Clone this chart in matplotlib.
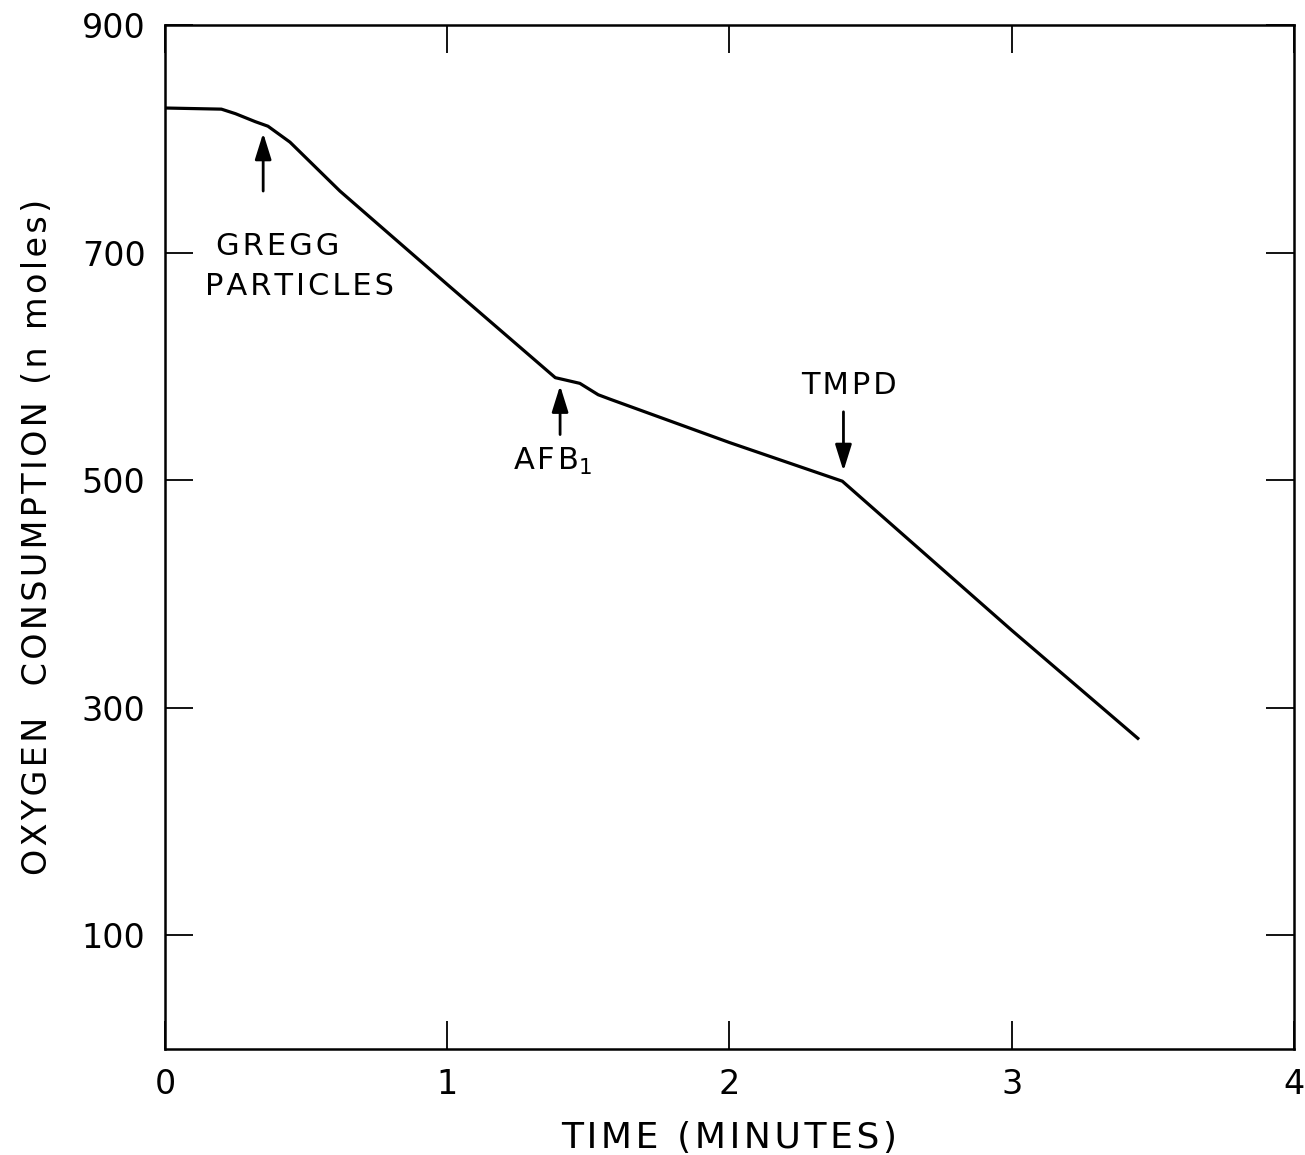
#!/usr/bin/env python3
"""Oxygen consumption vs time, with additions marked by arrows"""

import matplotlib
matplotlib.use("Agg")
import matplotlib.pyplot as plt

time_min = [0.0, 0.2, 0.25, 0.32, 0.365, 0.443, 0.62, 1.0, 1.383, 1.418,
             1.47, 1.535, 1.578, 2.0, 2.40, 3.0, 3.447]
oxygen = [827, 826, 822, 815, 811, 797, 754, 672, 590, 588,
          585, 575, 571, 533, 499, 368, 273]

# additions: time, arrow tail value, arrow head value
add_time = [0.348, 1.40, 2.404]
arrow_tail = [754, 540, 560]
arrow_head = [805, 583, 508]

x_ticks = [0, 1, 2, 3, 4]
y_ticks = [100, 300, 500, 700, 900]

plt.rcParams['font.family'] = ['DejaVu Sans']

fig = plt.figure(figsize=(13.05, 11.55), dpi=100)
ax = fig.add_axes([0.1264, 0.0918, 0.8651, 0.8866])

ax.plot(time_min, oxygen, color='black', lw=2.3, solid_joinstyle='round')

for t, tail, head in zip(add_time, arrow_tail, arrow_head):
    ax.annotate('', xy=(t, head), xytext=(t, tail),
                arrowprops=dict(arrowstyle='-|>,head_length=1.6,head_width=0.5',
                                color='black', lw=2.0, shrinkA=0, shrinkB=0))

# hair spaces to get the wide lettering of the original
hs = '\u200a'
ax.text(0.40, 705, hs.join("GREGG"), ha='center', va='center', fontsize=22)
ax.text(0.475, 670, hs.join("PARTICLES"), ha='center', va='center', fontsize=22)
ax.text(1.375, 516, hs.join("AFB") + "$_\\mathregular{1}$", ha='center', va='center',
        fontsize=22)
ax.text(2.425, 583, hs.join("TMPD"), ha='center', va='center', fontsize=22)

ax.set_xlim(0, 4)
ax.set_ylim(0, 900)
ax.set_xticks(x_ticks)
ax.set_yticks(y_ticks)
ax.tick_params(direction='in', length=20, width=1.3, labelsize=24,
               top=True, right=True, pad=14)
for sp in ax.spines.values():
    sp.set_linewidth(1.8)

ax.set_xlabel(hs.join("TIME (MINUTES)"), fontsize=26, labelpad=14)
ax.set_ylabel(hs.join("OXYGEN  CONSUMPTION (n moles)"), fontsize=24, labelpad=20)

fig.savefig("out.png", dpi=100)
